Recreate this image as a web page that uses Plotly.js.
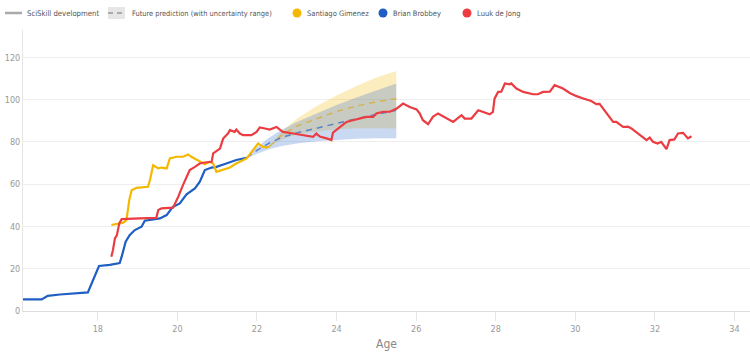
<!DOCTYPE html>
<html>
<head>
<meta charset="utf-8">
<script src="https://cdn.plot.ly/plotly-3.0.1.min.js"></script>
<style>html,body{margin:0;padding:0;background:#fff;}#chart{width:750px;height:355px;}</style>
</head>
<body>
<div id="chart"></div>
<script>
// ---- Data ----
const brobbeyAge = [16.1, 16.59, 16.74, 17.05, 17.75, 17.84, 17.9, 18.03, 18.3, 18.55, 18.6, 18.7, 18.8, 18.93, 19.1, 19.18, 19.56, 19.73, 19.88, 20.06, 20.23, 20.44, 20.56, 20.69, 20.86, 20.98, 21.23, 21.48, 21.74];
const brobbeyVal = [5.5, 5.5, 7.2, 7.8, 8.8, 13, 15.6, 21.3, 21.8, 22.7, 25.7, 32.8, 35.9, 38.3, 39.9, 42.7, 43.8, 45.4, 49.2, 50.9, 55.2, 58, 61.1, 66.7, 67.9, 68.2, 69.8, 71.5, 72.5];

const gimenezAge = [18.34, 18.64, 18.72, 18.79, 18.85, 18.97, 19.26, 19.31, 19.39, 19.52, 19.6, 19.73, 19.81, 19.98, 20.14, 20.27, 20.35, 20.56, 20.69, 20.81, 20.9, 20.98, 21.15, 21.32, 21.48, 21.74, 21.9, 22.03, 22.15, 22.24, 22.32];
const gimenezVal = [40.7, 41.8, 43, 52.5, 57.2, 58.3, 58.8, 61.9, 69, 67.5, 67.9, 67.5, 72.2, 73, 73, 74.1, 73, 71, 69.5, 70.6, 69.8, 65.9, 67, 67.9, 69.8, 72.2, 76.1, 79.3, 77.7, 77.4, 78];

const deJongAge = [18.34, 18.38, 18.43, 18.48, 18.54, 18.6, 19.06, 19.47, 19.52, 19.6, 19.89, 20.02, 20.14, 20.23, 20.31, 20.44, 20.56, 20.69, 20.86, 20.9, 21.07, 21.15, 21.27, 21.32, 21.44, 21.48, 21.57, 21.65, 21.86, 21.99, 22.07, 22.2, 22.32, 22.49, 22.65, 22.91, 23.16, 23.41, 23.49, 23.58, 23.75, 23.87, 23.91, 24.04, 24.16, 24.25, 24.41, 24.58, 24.75, 24.92, 25.0, 25.17, 25.34, 25.51, 25.67, 25.84, 26.01, 26.09, 26.17, 26.3, 26.42, 26.55, 26.93, 27.14, 27.22, 27.39, 27.56, 27.85, 27.93, 27.97, 28.06, 28.14, 28.23, 28.35, 28.39, 28.52, 28.69, 28.94, 29.06, 29.19, 29.36, 29.48, 29.69, 29.86, 30.03, 30.2, 30.4, 30.53, 30.61, 30.95, 31.03, 31.2, 31.32, 31.41, 31.79, 31.87, 31.95, 32.07, 32.16, 32.29, 32.37, 32.49, 32.58, 32.71, 32.83, 32.92];
const deJongVal = [25.7, 28.8, 34.4, 35.9, 41.5, 43.5, 43.8, 44.1, 47.8, 48.6, 48.9, 54, 59.6, 63.5, 66.7, 68.2, 69.8, 70.3, 70.6, 74.6, 76.9, 81.6, 84, 85.6, 84.8, 85.9, 84, 83.2, 83.2, 84.8, 86.9, 86.4, 85.9, 87.1, 84.8, 84, 83.2, 82.4, 84, 82.6, 81.7, 80.9, 84.4, 86.4, 88, 89.5, 90.3, 91.1, 91.9, 91.9, 93.5, 94.3, 94.3, 95.8, 98.2, 96.6, 95.4, 93.5, 90.3, 88.4, 91.9, 93.5, 89.5, 92.7, 91.1, 91.1, 95, 93.1, 94.2, 100.5, 103.7, 103.8, 107.7, 107.3, 107.7, 105.3, 103.7, 102.6, 102.6, 103.7, 103.8, 106.9, 105.3, 103.2, 101.7, 100.6, 99.4, 97.9, 98, 89.5, 89.5, 87.1, 87.3, 86.4, 80.9, 82.1, 80.1, 79.3, 80.1, 76.6, 80.9, 81.2, 84, 84.3, 81.7, 82.7];

// predictions
const brobbeyPredAge = [21.74, 22, 22.3, 22.6, 23, 23.5, 24, 24.5, 25, 25.5];
const brobbeyPredMid = [72.5, 76, 79.4, 82, 84.3, 86.6, 88.8, 91, 93, 95];
const brobbeyPredHi  = [72.5, 77.5, 82, 85.5, 89.5, 93.5, 97.5, 101, 104.5, 107.7];
const brobbeyPredLo  = [72.5, 74.5, 76.5, 78, 79.3, 80.3, 81, 81.5, 81.8, 81.8];

const gimenezPredAge = [22.32, 22.6, 23, 23.5, 24, 24.5, 25, 25.5];
const gimenezPredMid = [78, 83, 87.5, 91, 94.5, 97, 99, 100.5];
const gimenezPredHi  = [78, 84.5, 91, 97, 102, 106.5, 110.5, 113.6];
const gimenezPredLo  = [78, 81, 83.5, 85, 86, 86.5, 86.5, 86.4];

const xTicks = [18, 20, 22, 24, 26, 28, 30, 32, 34];
const yTicks = [0, 20, 40, 60, 80, 100, 120];

const names = ['Santiago Gimenez', 'Brian Brobbey', 'Luuk de Jong'];
const legendMain = ['SciSkill development', 'Future prediction (with uncertainty range)'];

// ---- Styles ----
const GOLD = '#f5b800', BLUE = '#1f5fc3', RED = '#eb3c42';
const FONT = 'DejaVu Sans Condensed, Liberation Sans Narrow, sans-serif';

const traces = [
  {x: gimenezPredAge, y: gimenezPredLo, mode: 'lines', line: {width: 0}, hoverinfo: 'skip', showlegend: false},
  {x: gimenezPredAge, y: gimenezPredHi, mode: 'lines', line: {width: 0}, fill: 'tonexty', fillcolor: 'rgba(245,190,20,0.28)', hoverinfo: 'skip', showlegend: false},
  {x: brobbeyPredAge, y: brobbeyPredLo, mode: 'lines', line: {width: 0}, hoverinfo: 'skip', showlegend: false},
  {x: brobbeyPredAge, y: brobbeyPredHi, mode: 'lines', line: {width: 0}, fill: 'tonexty', fillcolor: 'rgba(45,105,205,0.25)', hoverinfo: 'skip', showlegend: false},
  {x: gimenezPredAge, y: gimenezPredMid, mode: 'lines', line: {color: 'rgba(215,175,60,0.85)', width: 1.5, dash: '6px,5px'}, showlegend: false},
  {x: brobbeyPredAge, y: brobbeyPredMid, mode: 'lines', line: {color: 'rgba(40,100,200,0.7)', width: 1.5, dash: '6px,5px'}, showlegend: false},
  {x: brobbeyAge, y: brobbeyVal, mode: 'lines', name: names[1], line: {color: BLUE, width: 2.2}, showlegend: false},
  {x: gimenezAge, y: gimenezVal, mode: 'lines', name: names[0], line: {color: GOLD, width: 2.2}, showlegend: false},
  {x: deJongAge, y: deJongVal, mode: 'lines', name: names[2], line: {color: RED, width: 2.2}, showlegend: false}
];

// legend drawn in paper coordinates
const L = 23, W = 727, B = 311, H = 281;
const px = v => (v - L) / W;
const py = v => (B - v) / H;
const ly = 13;
const shapes = [
  {type: 'line', xref: 'paper', yref: 'paper', x0: px(5), x1: px(22), y0: py(ly), y1: py(ly), line: {color: '#aaaaaa', width: 2.5}},
  {type: 'rect', xref: 'paper', yref: 'paper', x0: px(108), x1: px(125), y0: py(19), y1: py(7), fillcolor: '#e6e6e6', line: {width: 0}},
  {type: 'line', xref: 'paper', yref: 'paper', x0: px(108), x1: px(125), y0: py(ly), y1: py(ly), line: {color: '#aaaaaa', width: 1.8, dash: '5px,4px'}}
];
const dots = [[297, GOLD], [383, BLUE], [467, RED]];
dots.forEach(([cx, c]) => shapes.push({type: 'circle', xref: 'paper', yref: 'paper', x0: px(cx - 4.5), x1: px(cx + 4.5), y0: py(ly + 4.5), y1: py(ly - 4.5), fillcolor: c, line: {width: 0}}));
const textPos = [[25, legendMain[0], 7.7], [130, legendMain[1], 7.4], [305, names[0], 7.5], [391, names[1], 7.5], [475, names[2], 7.5]];
const annotations = textPos.map(([x, t, s]) => ({xref: 'paper', yref: 'paper', x: px(x), y: py(ly), xanchor: 'left', yanchor: 'middle', text: t, showarrow: false, font: {family: FONT, size: s, color: '#555'}}));

const layout = {
  width: 750, height: 355,
  margin: {l: L, r: 750 - L - W, t: 30, b: 355 - B},
  paper_bgcolor: '#fff', plot_bgcolor: '#fff',
  showlegend: false,
  font: {family: FONT, size: 9, color: '#999'},
  xaxis: {
    range: [16.12, 34.39], tickvals: xTicks, ticktext: xTicks.map(String),
    showgrid: false, zeroline: false, showline: true, linecolor: '#dddddd', linewidth: 1,
    ticks: 'outside', ticklen: 9, tickcolor: '#e6e6e6', tickwidth: 1,
    tickfont: {family: FONT, size: 9, color: '#999'},
    title: {text: 'Age', font: {family: FONT, size: 12, color: '#888'}, standoff: 6}
  },
  yaxis: {
    range: [0, 133], tickvals: yTicks, ticktext: yTicks.map(String),
    showgrid: true, gridcolor: '#eeeeee', gridwidth: 1, zeroline: false,
    showline: true, linecolor: '#e6e6e6', linewidth: 1,
    ticks: '', tickfont: {family: FONT, size: 9, color: '#999'}
  },
  shapes: shapes,
  annotations: annotations
};

Plotly.newPlot('chart', traces, layout, {displayModeBar: false, staticPlot: true});
</script>
</body>
</html>
